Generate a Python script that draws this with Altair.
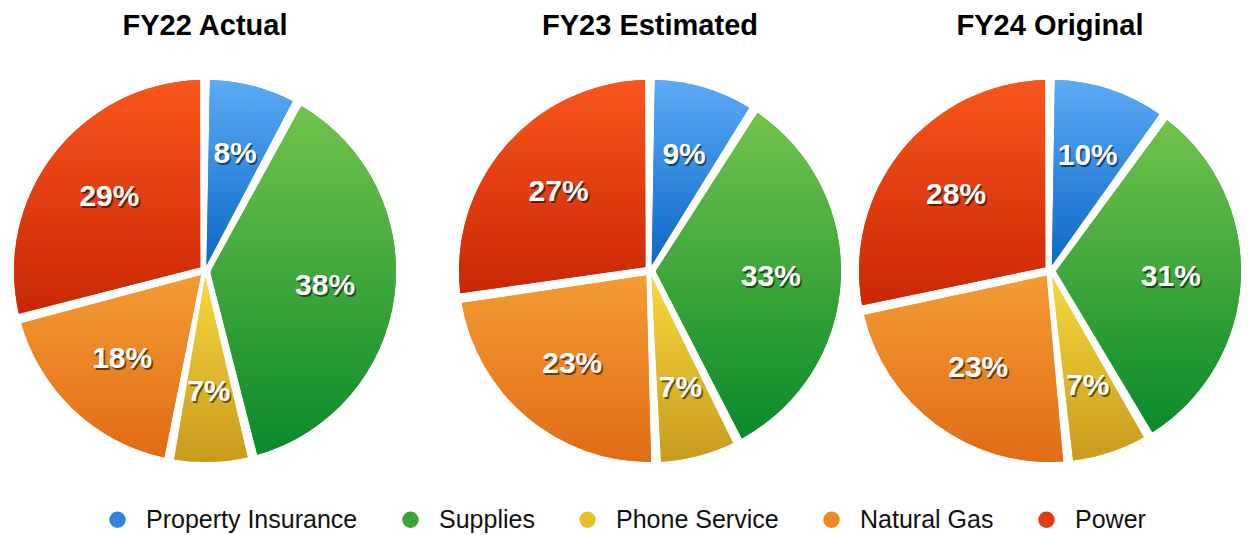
import altair as alt
import pandas as pd

years = ["FY22 Actual", "FY23 Estimated", "FY24 Original"]
categories = ["Property Insurance", "Supplies", "Phone Service", "Natural Gas", "Power"]
fy22 = [8, 38, 7, 18, 29]
fy23 = [9, 33, 7, 23, 27]
fy24 = [10, 31, 7, 23, 28]

legend_colors = ["#2f86e0", "#3aa33a", "#e6c22a", "#ee8a20", "#e23c10"]
top_colors = ["#5aabf6", "#72c34b", "#f6d93c", "#f49c33", "#f9561d"]
bottom_colors = ["#0e68c6", "#0a8a2b", "#c89a1e", "#e06b16", "#c92606"]

rows = []
for y, vals in zip(years, [fy22, fy23, fy24]):
    for i, (c, v) in enumerate(zip(categories, vals)):
        rows.append(dict(year=y, category=c, value=v, order=i))
df = pd.DataFrame(rows)

FONT = "Liberation Sans"
R = 191
PAD = 0.052
theta_scale = alt.Scale(domain=[0, 100])


def panel(year, width):
    base = (
        alt.Chart(df)
        .transform_filter(alt.datum.year == year)
        .transform_joinaggregate(total="sum(value)")
        .transform_window(cum="sum(value)", sort=[alt.SortField("order")], frame=[None, 0])
        .transform_calculate(
            start="(datum.cum - datum.value) / datum.total * 100",
            end="datum.cum / datum.total * 100",
            mid="(datum.cum - datum.value / 2) / datum.total * 100",
            label='datum.value + "%"',
        )
    )
    arcs = base.mark_arc(outerRadius=R, innerRadius=6, padAngle=PAD).encode(
        theta=alt.Theta("start:Q", stack=False, scale=theta_scale),
        theta2="end:Q",
        color=alt.Color(
            "category:N",
            scale=alt.Scale(domain=categories, range=legend_colors),
            legend=alt.Legend(
                title=None,
                orient="none",
                legendX=97,
                legendY=436,
                direction="horizontal",
                columns=5,
                symbolType="circle",
                symbolSize=270,
                symbolStrokeWidth=0,
                labelFontSize=25,
                labelFont=FONT,
                labelColor="#111111",
                labelLimit=400,
                labelOffset=16,
                columnPadding=40,
            ),
        ),
    )
    overlays = []
    for c, t, b in zip(categories, top_colors, bottom_colors):
        grad = alt.LinearGradient(
            gradient="linear",
            stops=[alt.GradientStop(color=t, offset=0), alt.GradientStop(color=b, offset=1)],
            x1=0, x2=0, y1=0, y2=1,
        )
        overlays.append(
            base.transform_filter(alt.datum.category == c)
            .mark_arc(outerRadius=R, innerRadius=6, padAngle=PAD, fill=grad)
            .encode(
                theta=alt.Theta("start:Q", stack=False, scale=theta_scale),
                theta2="end:Q",
            )
        )
    shadow = base.mark_text(
        radius=121, font=FONT, fontSize=30, fontWeight="bold", color="black",
        opacity=0.55, dx=1.5, dy=2,
    ).encode(theta=alt.Theta("mid:Q", stack=False, scale=theta_scale), text="label:N")
    text = base.mark_text(
        radius=121, font=FONT, fontSize=30, fontWeight="bold", color="white",
    ).encode(theta=alt.Theta("mid:Q", stack=False, scale=theta_scale), text="label:N")
    return alt.layer(arcs, *overlays, shadow, text).properties(
        width=width,
        height=400,
        title=alt.TitleParams(
            year, fontSize=29, fontWeight="bold", font=FONT, color="black",
            anchor="middle", offset=30,
        ),
    )


chart = (
    alt.hconcat(
        panel(years[0], 394), panel(years[1], 416), panel(years[2], 304),
        spacing=40, bounds="flush",
    )
    .properties(padding={"left": 0, "top": 4, "right": 0, "bottom": 54}, background="white")
    .configure_view(stroke=None)
)

chart.save("out.html", embed_options={"renderer": "svg", "actions": False})
